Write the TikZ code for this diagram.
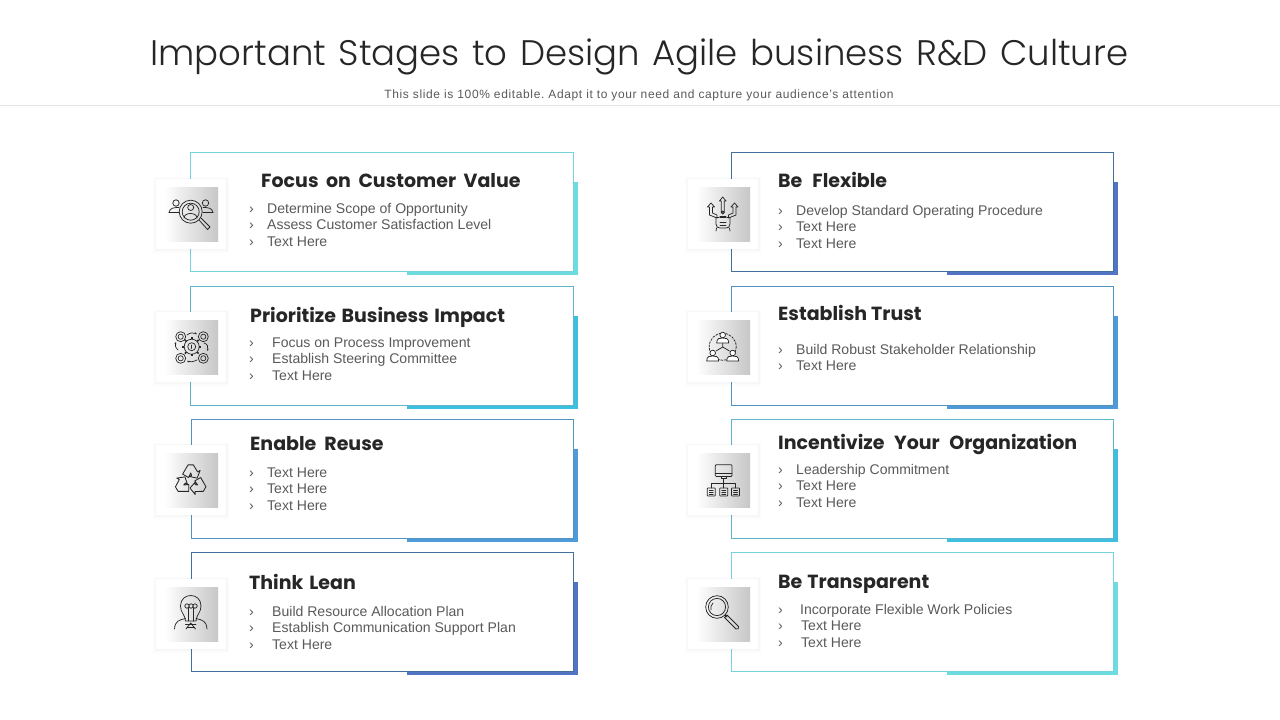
\documentclass[tikz,border=0pt]{standalone}
\usepackage{fontspec}
\setmainfont{Liberation Sans}
\newfontfamily\titlefont{Poppins Light}
\newfontfamily\headfont{Poppins Bold}
\newfontfamily\subfont[LetterSpace=5.3]{Liberation Sans}
\usetikzlibrary{arrows.meta}
\definecolor{ink}{HTML}{262626}
\definecolor{body}{HTML}{5A5A5A}
\definecolor{cA}{HTML}{6CDCE0}
\definecolor{cB}{HTML}{3FBFE0}
\definecolor{cC}{HTML}{4F9BDA}
\definecolor{cD}{HTML}{5174C4}
\definecolor{bA}{HTML}{74D3DC}
\definecolor{bB}{HTML}{5DB5C8}
\definecolor{bC}{HTML}{4F93BE}
\definecolor{bD}{HTML}{44709E}
\tikzset{
  x=1pt,y=-1pt,
  cardbox/.style={draw=#1,line width=0.8pt,fill=white},
  glyph/.style={draw=black!85,line width=0.75pt,line cap=round,line join=round},
  headtxt/.style={anchor=base west,inner sep=0pt,text=ink,font=\headfont\fontsize{19}{24}\selectfont},
  bodytxt/.style={anchor=base west,inner sep=0pt,text=body,font=\fontsize{14.05}{17}\selectfont},
}
% \card{x0}{y0}{x1}{border}{band}
\newcommand{\card}[5]{%
  \fill[#5] (#3-167,#2+118.5) rectangle (#3+4,#2+122);
  \fill[#5] (#3,#2+29.5) rectangle (#3+4,#2+122);
  \draw[cardbox=#4] (#1,#2) rectangle (#3,#2+119);
}
% \tile{x}{y}
\newcommand{\tile}[2]{%
  \fill[black,opacity=.012] (#1-3,#2-2) rectangle (#1+73,#2+74);
  \fill[black,opacity=.02] (#1-1.5,#2-1) rectangle (#1+71.5,#2+72);
  \fill[white] (#1,#2) rectangle (#1+70,#2+70);
  \shade[left color=white,middle color=black!6,right color=black!22,shading angle=90] (#1+8,#2+8) rectangle (#1+62,#2+62);
}
\newcommand{\bul}[2]{\node[bodytxt,anchor=base west] at (#1,#2) {›};}
\begin{document}
\begin{tikzpicture}
\useasboundingbox (0,0) rectangle (1280,720);
\fill[white] (0,0) rectangle (1280,720);
\node[anchor=base,inner sep=0pt,text=ink,font=\titlefont\fontsize{35.5}{42}\selectfont] (title) at (639.5,65) {\spaceskip=12.5pt Important Stages to Design Agile business R\&D Culture};
\node[anchor=base,inner sep=0pt,text=body,font=\subfont\fontsize{12}{14}\selectfont] (subtitle) at (639,98) {\frenchspacing This slide is 100\% editable. Adapt it to your need and capture your audience’s attention};
\draw[black!10,line width=0.8pt] (0,105.5) -- (1280,105.5);

\card{190.5}{152.5}{573.8}{bA}{cA}
\card{190.5}{286.5}{573.8}{bB}{cB}
\card{191}{419.5}{573.8}{bC}{cC}
\card{191}{552.5}{573.8}{bD}{cD}
\card{731}{152.5}{1113.8}{bD}{cD}
\card{731}{286.5}{1113.8}{bC}{cC}
\card{731}{419.5}{1113.8}{bB}{cB}
\card{731}{552.5}{1113.8}{bA}{cA}

\tile{156}{179}\tile{156}{312}\tile{156}{445}\tile{156}{579}
\tile{688}{179}\tile{688}{312}\tile{688}{445}\tile{688}{579}

% Left column text
\node[headtxt] (h1) at (261,187) {\spaceskip=7.5pt Focus on Customer Value};
\bul{249}{213}\node[bodytxt] (t11) at (267,213) {Determine Scope of Opportunity};
\bul{249}{229}\node[bodytxt] (t12) at (267,229) {Assess Customer Satisfaction Level};
\bul{249}{246}\node[bodytxt] (t13) at (267,246) {Text Here};

\node[headtxt] (h2) at (250,322) {\spaceskip=5.5pt Prioritize Business Impact};
\bul{249}{347}\node[bodytxt] (t21) at (272,347) {Focus on Process Improvement};
\bul{249}{363}\node[bodytxt] (t22) at (272,363) {Establish Steering Committee};
\bul{249}{380}\node[bodytxt] (t23) at (272,380) {Text Here};

\node[headtxt] (h3) at (250,450) {\spaceskip=8pt Enable Reuse};
\bul{249}{477}\node[bodytxt] (t31) at (267,477) {Text Here};
\bul{249}{493}\node[bodytxt] (t32) at (267,493) {Text Here};
\bul{249}{510}\node[bodytxt] (t33) at (267,510) {Text Here};

\node[headtxt] (h4) at (249,589) {\spaceskip=6pt Think Lean};
\bul{249}{616}\node[bodytxt] (t41) at (272,616) {Build Resource Allocation Plan};
\bul{249}{632}\node[bodytxt] (t42) at (272,632) {Establish Communication Support Plan};
\bul{249}{649}\node[bodytxt] (t43) at (272,649) {Text Here};

% Right column text
\node[headtxt] (h5) at (778,187) {\spaceskip=10pt Be Flexible};
\bul{778}{215}\node[bodytxt] (t51) at (796,215) {Develop Standard Operating Procedure};
\bul{778}{231}\node[bodytxt] (t52) at (796,231) {Text Here};
\bul{778}{248}\node[bodytxt] (t53) at (796,248) {Text Here};

\node[headtxt] (h6) at (778,320) {\spaceskip=4pt Establish Trust};
\bul{778}{354}\node[bodytxt] (t61) at (796,354) {Build Robust Stakeholder Relationship};
\bul{778}{370}\node[bodytxt] (t62) at (796,370) {Text Here};

\node[headtxt] (h7) at (778,449) {\spaceskip=9.5pt Incentivize Your Organization};
\bul{778}{474}\node[bodytxt] (t71) at (796,474) {Leadership Commitment};
\bul{778}{490}\node[bodytxt] (t72) at (796,490) {Text Here};
\bul{778}{507}\node[bodytxt] (t73) at (796,507) {Text Here};

\node[headtxt] (h8) at (778,588) {\spaceskip=5pt Be Transparent};
\bul{778}{614}\node[bodytxt] (t81) at (800,614) {Incorporate Flexible Work Policies};
\bul{778}{630}\node[bodytxt] (t82) at (801,630) {Text Here};
\bul{778}{647}\node[bodytxt] (t83) at (801,647) {Text Here};

% Icon 1: customer search
\begin{scope}[glyph]
\draw (190.7,211.7) circle (11.5);
\draw (190.7,211.7) circle (8.5);
\draw (190.7,207.5) circle (3);
\draw (184,218) .. controls (184,212) and (197,212) .. (197,218);
\draw (199,220) -- (207.5,229.5) -- (210,227) -- (201,218);
\draw (176,203) circle (3.2);
\draw (205.5,203) circle (3.2);
\draw (169,212.5) .. controls (170,208) and (173,207.5) .. (179,207.5);
\draw (169,212.5) -- (179,212.5);
\draw (213,212.5) .. controls (212,208) and (209,207.5) .. (203,207.5);
\draw (213,212.5) -- (203,212.5);
\end{scope}

% Icon 2: gear and four circles
\begin{scope}[glyph,line width=0.7pt]
\foreach \a in {0,45,...,315}{\draw[line width=1.6pt,line cap=butt] (191.7,346.7) ++(\a:7.5) -- ++(\a:2.2);}
\draw (191.7,346.7) circle (7.5);
\draw (191.7,346.7) circle (4);
\draw (191.7,345) -- (191.7,348.5);
\foreach \p in {(180.7,336.7),(203.3,336.7),(180.7,358.3),(203.3,358.3)}{\draw \p circle (5);\draw \p circle (2.6);}
\draw[-{Stealth[length=2.5pt]}] (187,335) .. controls (190,332.5) and (193,332.5) .. (197,334);
\draw[-{Stealth[length=2.5pt]}] (204,343) .. controls (208,344) and (208,347) .. (207.5,351);
\draw[-{Stealth[length=2.5pt]}] (197,360) .. controls (193,362) and (190,362) .. (187,361);
\draw[-{Stealth[length=2.5pt]}] (178,350) .. controls (175,347) and (175,345) .. (176,342);
\end{scope}

% Icon 3: recycle
\begin{scope}[shift={(190.7,481)},glyph,line width=0.85pt,scale=1.15]
\foreach \r in {0,120,240}{
\begin{scope}[rotate=\r]
\draw (-7,-6) -- (-2.3,-14) -- (2.3,-14) -- (6,-7.9) -- (8.2,-9.2) -- (5.6,-2.5) -- (-1,-3.9) -- (0.8,-4.9) -- (0,-7) -- (-1.83,-3) -- cycle;
\end{scope}}
\end{scope}

% Icon 4: bulb in head
\begin{scope}[glyph]
\draw (185.5,621) .. controls (185,614) and (180.5,613) .. (180.5,606) .. controls (180.5,592) and (201,592) .. (201,606) .. controls (201,613) and (196.5,614) .. (196,621) -- cycle;
\draw (185.5,624) -- (196,624);
\draw (187,627) -- (194.5,627);
\draw (187,606) circle (2.2) (191,606) circle (2.2) (195,606) circle (2.2);
\draw (188,608) -- (188,621) (193.5,608) -- (193.5,621);
\draw (174.5,629) .. controls (175,621) and (179,620) .. (185.5,618.5);
\draw (207,629) .. controls (206.5,621) and (202.5,620) .. (196,618.5);
\draw (186,629) -- (190.7,623) -- (195.5,629);
\end{scope}

% Icon 5: flexible person with arrows
\begin{scope}[glyph]
\draw (722.7,197) -- (719.5,201) -- (721.2,201) -- (721.2,212) -- (724.2,212) -- (724.2,201) -- (726,201) -- cycle;
\draw (711,203) -- (707.5,207) -- (709.5,207) -- (709.5,215) -- (717,218) -- (717,215) -- (712.5,213) -- (712.5,207) -- (714.5,207) -- cycle;
\draw (734.5,203) -- (731,207) -- (733,207) -- (733,213) -- (728.5,215) -- (728.5,218) -- (736,215) -- (736,207) -- (738,207) -- cycle;
\draw (719,217.5) -- (716,217.5) -- (716,224) .. controls (716,227) and (718,228) .. (720,228) -- (726,228) .. controls (728,228) and (730,227) .. (730,224) -- (730,217.5) -- (727,217.5);
\draw[line width=1.2pt] (720,217) -- (726,217);
\draw (720,222) -- (726,222) (720,225) -- (726,225);
\draw (716.5,228) -- (716,231) (729.5,228) -- (730,231);
\draw[fill=black!60] (722.7,212.5) circle (1.6);
\end{scope}

% Icon 6: three people in dashed circle
\begin{scope}[glyph]
\draw[dash pattern=on 2pt off 1.5pt] (722.7,346.7) circle (13.5);
\draw (722.7,347) -- (722.7,342) (722.7,347) -- (716,351) (722.7,347) -- (729.5,351);
\foreach \x/\y in {722.7/332,712.7/350,732.7/350}{
  \draw[fill=white] (\x,\y+3) circle (2.8);
  \draw[fill=white] (\x-6,\y+11) .. controls (\x-6,\y+6) and (\x-3,\y+6) .. (\x,\y+6) .. controls (\x+3,\y+6) and (\x+6,\y+6) .. (\x+6,\y+11) -- cycle;
}
\end{scope}

% Icon 7: monitor hierarchy
\begin{scope}[glyph]
\draw[rounded corners=1pt] (715.3,464.7) rectangle (732,476.5);
\draw (715.3,473.5) -- (732,473.5);
\draw (721,476.5) -- (721,478.5) -- (726.5,478.5) -- (726.5,476.5);
\draw (723.7,478.5) -- (723.7,488);
\draw (711.3,488) -- (711.3,483.5) -- (735.5,483.5) -- (735.5,488);
\fill[black!85] (723.7,483.5) circle (1.2);
\foreach \x in {711.3,723.7,735.5}{
  \draw[rounded corners=0.6pt] (\x-4,488) rectangle (\x+4,496);
  \draw (\x-2,490.5) -- (\x+2,490.5) (\x-2,492.5) -- (\x+2,492.5) (\x-2,494.5) -- (\x+2,494.5);
}
\end{scope}

% Icon 8: magnifier
\begin{scope}[glyph]
\draw (717,607) circle (11.3);
\draw (717,607) circle (8.6);
\draw (711,610) .. controls (710.5,607) and (711,605) .. (713,603);
\draw (725,615) -- (727,617);
\draw (727,615) -- (738.5,626.5) .. controls (739.5,628) and (737.5,630) .. (736,629) -- (724.5,617.5) -- cycle;
\end{scope}
\end{tikzpicture}
\end{document}
